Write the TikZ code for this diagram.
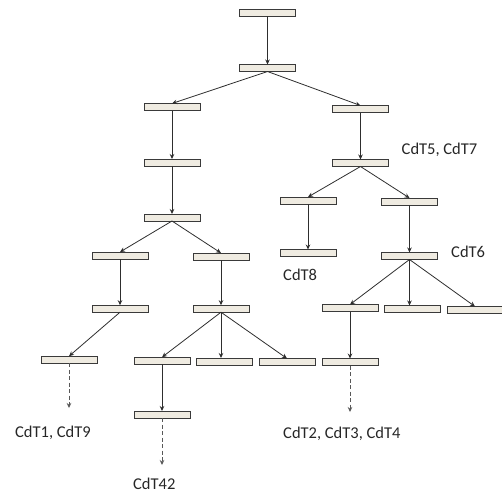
\documentclass[tikz,border=0pt]{standalone}
\usepackage{fontspec}
\setmainfont{Carlito}
\usetikzlibrary{arrows.meta}
\definecolor{boxfill}{HTML}{EFEBE1}
\definecolor{boxdraw}{HTML}{3A3A3A}
\definecolor{edgecol}{HTML}{2E2E2E}
\begin{document}
\begin{tikzpicture}[x=1pt,y=-1pt,
  bar/.style={draw=boxdraw,fill=boxfill,line width=0.9pt,minimum width=56pt,minimum height=7pt,inner sep=0pt,outer sep=0pt},
  edge/.style={draw=edgecol,line width=0.8pt,-{Stealth[length=5pt,width=4.5pt]}},
  dedge/.style={draw=edgecol!80,line width=0.8pt,dash pattern=on 4pt off 2.5pt,-{Stealth[length=5pt,width=4.5pt]}},
  lbl/.style={font=\fontsize{16.5}{18}\selectfont,text=black!85,inner sep=0pt}]
\useasboundingbox (0,0) rectangle (502,496);
% boxes
\node[bar] (t)   at (267.5,12.5) {};
\node[bar] (b2)  at (267.5,68) {};
\node[bar] (l1)  at (172,107) {};
\node[bar] (l2)  at (172,162.5) {};
\node[bar] (l3)  at (172,217.5) {};
\node[bar] (l4a) at (120,255.5) {};
\node[bar] (l4b) at (221,256.5) {};
\node[bar] (l5a) at (120,308.7) {};
\node[bar] (l5b) at (221,308.7) {};
\node[bar] (l6a) at (69,359.7) {};
\node[bar] (l6b) at (162,360.7) {};
\node[bar] (l6c) at (224,361.5) {};
\node[bar] (l6d) at (287,362) {};
\node[bar] (l7)  at (162,414.5) {};
\node[bar] (r1)  at (360.5,109) {};
\node[bar] (r2)  at (360.5,163) {};
\node[bar] (r3a) at (308,200.5) {};
\node[bar] (r3b) at (409.5,201.5) {};
\node[bar] (r4a) at (308,253) {};
\node[bar] (r4b) at (409.5,256) {};
\node[bar] (r5a) at (350,308) {};
\node[bar] (r5b) at (412.5,309) {};
\node[bar] (r5c) at (475,310) {};
\node[bar] (r6)  at (350,362) {};
% free ends
\coordinate (e1) at (69,408);
\coordinate (e2) at (162,465);
\coordinate (e3) at (350,412);
% edges
\draw[edge] (t.south) -- (b2.north);
\draw[edge] (b2.south) -- (l1.north);
\draw[edge] (b2.south) -- (r1.north);
\draw[edge] (l1.south) -- (l2.north);
\draw[edge] (l2.south) -- (l3.north);
\draw[edge] (l3.south) -- (l4a.north);
\draw[edge] (l3.south) -- (l4b.north);
\draw[edge] (l4a.south) -- (l5a.north);
\draw[edge] (l4b.south) -- (l5b.north);
\draw[edge] (l5a.south) -- (l6a.north);
\draw[edge] (l5b.south) -- (l6b.north);
\draw[edge] (l5b.south) -- (l6c.north -| l5b.south);
\draw[edge] (l5b.south) -- (l6d.north);
\draw[edge] (l6b.south) -- (l7.north);
\draw[edge] (r1.south) -- (r2.north);
\draw[edge] (r2.south) -- (r3a.north);
\draw[edge] (r2.south) -- (r3b.north);
\draw[edge] (r3a.south) -- (r4a.north);
\draw[edge] (r3b.south) -- (r4b.north);
\draw[edge] (r4b.south) -- (r5a.north);
\draw[edge] (r4b.south) -- (r5b.north -| r4b.south);
\draw[edge] (r4b.south) -- (r5c.north);
\draw[edge] (r5a.south) -- (r6.north);
\draw[dedge] (l6a.south) -- (e1);
\draw[dedge] (l7.south) -- (e2);
\draw[dedge] (r6.south) -- (e3);
% labels
\node[lbl,anchor=west] (c57) at (401.5,150) {CdT5, CdT7};
\node[lbl,anchor=west] (c6) at (451,252) {CdT6};
\node[lbl,anchor=west] (c8) at (283,275) {CdT8};
\node[lbl,anchor=west] (c19) at (15,433) {CdT1, CdT9};
\node[lbl,anchor=west] (c234) at (283,433.5) {CdT2, CdT3, CdT4};
\node[lbl,anchor=west] (c42) at (133,484) {CdT42};
\end{tikzpicture}
\end{document}
